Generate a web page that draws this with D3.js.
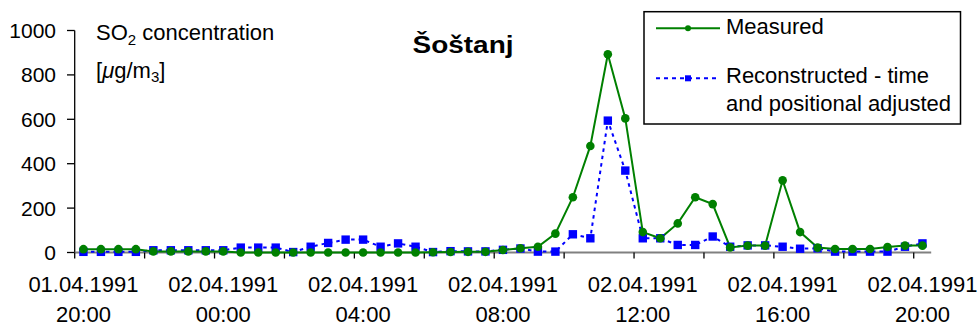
<!DOCTYPE html>
<html>
<head>
<meta charset="utf-8">
<script src="https://cdn.jsdelivr.net/npm/d3@7"></script>
<style>
  html, body { margin: 0; padding: 0; background: #fff; }
  svg { display: block; font-family: "Liberation Sans", Arial, sans-serif; }
</style>
</head>
<body>
<svg id="chart" width="980" height="327"></svg>
<script>
// ---- data ----
const dateLabels = ["01.04.1991","02.04.1991","02.04.1991","02.04.1991","02.04.1991","02.04.1991","02.04.1991"];
const timeLabels = ["20:00","00:00","04:00","08:00","12:00","16:00","20:00"];
// 49 half-hourly categories, 01.04.1991 20:00 .. 02.04.1991 20:00
const measured = [15,15,15,15, 5,5,5,5,5, 0,0,0,0, 0,0,0,0,0,0,0,
  1,2,3,3,11, 19,26,85,249,480,893,604,92,64,131,249,218,
  23,31,31,325,92,22,16,16,16,25,31,31];
const reconstructed = [3,3,3,3, 10,10,10,10,10, 22,22,22, 2,
  26,43,58,58,26,41,26,
  2,6,5,5,12,18,4,4,
  82,64,594,369,64,64,34,34,72,
  26,32,32,26,17,19,4,4,4,4,26,41];
const yTicks = [0,200,400,600,800,1000];

const svg = d3.select("#chart");
const idx = d3.range(measured.length);

const x = d3.scaleBand().domain(idx).range([74.7, 931.2]).padding(0);
const y = d3.scaleLinear().domain([0, 1000]).range([252.5, 30.5]);
const cx = i => x(i) + x.bandwidth() / 2;

// y axis
svg.append("line").attr("x1", 74.7).attr("x2", 74.7).attr("y1", y(1000)).attr("y2", y(0))
  .attr("stroke", "#000").attr("stroke-width", 1.3);
yTicks.forEach(t => {
  svg.append("line").attr("x1", 67).attr("x2", 74.7).attr("y1", y(t)).attr("y2", y(t))
    .attr("stroke", "#000").attr("stroke-width", 1.3);
  svg.append("text").attr("x", 56).attr("y", y(t) + 7.5).attr("text-anchor", "end")
    .attr("font-size", 21).attr("fill", "#000").text(t);
});

// x axis
svg.append("line").attr("x1", 74.7).attr("x2", 931.2).attr("y1", y(0)).attr("y2", y(0))
  .attr("stroke", "#808080").attr("stroke-width", 2);
idx.filter(i => i % 4 === 0).forEach(i => {
  svg.append("line").attr("x1", x(i)).attr("x2", x(i)).attr("y1", y(0)).attr("y2", y(0) + 6)
    .attr("stroke", "#000").attr("stroke-width", 1.3);
});
idx.filter(i => i % 8 === 0).forEach((i, k) => {
  svg.append("text").attr("x", cx(i)).attr("y", 292.3).attr("text-anchor", "middle")
    .attr("font-size", 22).attr("fill", "#000").text(dateLabels[k]);
  svg.append("text").attr("x", cx(i)).attr("y", 321.5).attr("text-anchor", "middle")
    .attr("font-size", 22).attr("fill", "#000").text(timeLabels[k]);
});

// series
const line = d3.line().x((d, i) => cx(i)).y(d => y(d));
svg.append("path").datum(reconstructed).attr("d", line).attr("fill", "none")
  .attr("stroke", "#0000ff").attr("stroke-width", 2).attr("stroke-dasharray", "3.5,4");
svg.append("path").datum(measured).attr("d", line).attr("fill", "none")
  .attr("stroke", "#008000").attr("stroke-width", 2);
svg.selectAll(".sq").data(reconstructed).enter().append("rect")
  .attr("x", (d, i) => cx(i) - 4.2).attr("y", d => y(d) - 4.2)
  .attr("width", 8.4).attr("height", 8.4).attr("fill", "#0000ff");
svg.selectAll(".ci").data(measured).enter().append("circle")
  .attr("cx", (d, i) => cx(i)).attr("cy", d => y(d)).attr("r", 4.3).attr("fill", "#008000");

// title
svg.append("text").attr("x", 463).attr("y", 53).attr("text-anchor", "middle")
  .attr("font-size", 23).attr("font-weight", "bold").attr("fill", "#000")
  .attr("textLength", 101).attr("lengthAdjust", "spacingAndGlyphs").text("Šoštanj");

// y unit label
const t1 = svg.append("text").attr("x", 96).attr("y", 40).attr("font-size", 22).attr("fill", "#000");
t1.append("tspan").text("SO");
t1.append("tspan").attr("font-size", 15).attr("dy", 5).text("2");
t1.append("tspan").attr("dy", -5).text(" concentration");
const t2 = svg.append("text").attr("x", 96).attr("y", 78).attr("font-size", 22).attr("fill", "#000");
t2.append("tspan").text("[");
t2.append("tspan").attr("font-style", "italic").text("μ");
t2.append("tspan").text("g/m");
t2.append("tspan").attr("font-size", 15).attr("dy", 4).text("3");
t2.append("tspan").attr("dy", -4).text("]");

// legend
svg.append("rect").attr("x", 644).attr("y", 11.7).attr("width", 316.5).attr("height", 112.3)
  .attr("fill", "#fff").attr("stroke", "#000").attr("stroke-width", 1.5);
svg.append("line").attr("x1", 656).attr("x2", 720).attr("y1", 28.3).attr("y2", 28.3)
  .attr("stroke", "#008000").attr("stroke-width", 2);
svg.append("circle").attr("cx", 688).attr("cy", 28.3).attr("r", 3).attr("fill", "#008000");
svg.append("text").attr("x", 726).attr("y", 33.5).attr("font-size", 22).attr("fill", "#000").text("Measured");
svg.append("line").attr("x1", 656).attr("x2", 720).attr("y1", 78.3).attr("y2", 78.3)
  .attr("stroke", "#0000ff").attr("stroke-width", 2).attr("stroke-dasharray", "4,4");
svg.append("rect").attr("x", 685).attr("y", 75.3).attr("width", 6).attr("height", 6).attr("fill", "#0000ff");
svg.append("text").attr("x", 726).attr("y", 83.3).attr("font-size", 22).attr("fill", "#000").text("Reconstructed - time");
svg.append("text").attr("x", 726).attr("y", 110.7).attr("font-size", 22).attr("fill", "#000").text("and positional adjusted");
</script>
</body>
</html>
